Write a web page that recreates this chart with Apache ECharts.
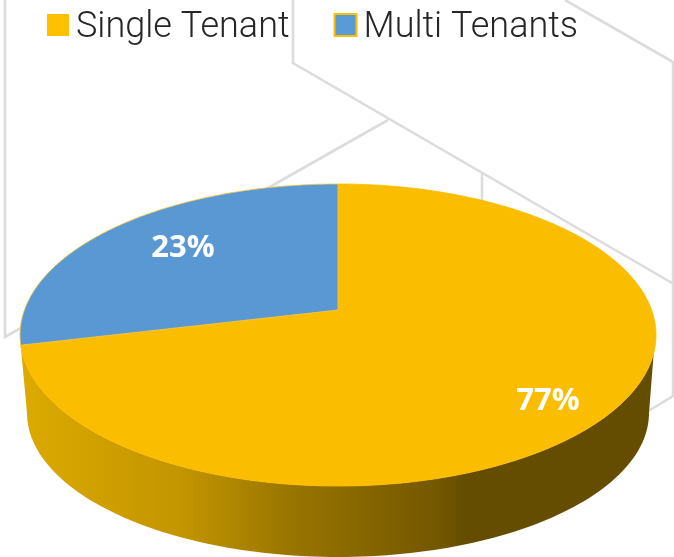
<!DOCTYPE html>
<html>
<head>
<meta charset="utf-8">
<style>
  html, body { margin: 0; padding: 0; background: #fff; }
  #chart { width: 674px; height: 557px; }
</style>
<script src="https://cdn.jsdelivr.net/npm/echarts@6/dist/echarts.min.js"></script>
</head>
<body>
<div id="chart"></div>
<script>
const categories = ['Single Tenant', 'Multi Tenants'];
// printed data labels
const percentLabels = [77, 23];
// sweep of each slice (it does not follow the printed labels)
const sliceShares = [71.3, 28.7];
const sliceColors = ['#fbbd00', '#5a98d4'];
const sliceStrokes = ['#fbbd00', '#f8c93c'];

// tilted disc: a circle seen in perspective
const hub = { x: 338, y: 310 };
const tiltA = 313.6, tiltB = 146.9, tiltP = 0.1656;
const rimTop = { x: 338, y: 335, rx: 318, ry: 151 };
const rimBottom = { x: 338, y: 413, rx: 311, ry: 144 };
const labelPos = [[548, 401], [183, 248]];

function discPoint(share) {
  const t = share / 100 * Math.PI * 2;
  const w = 1 + tiltP * Math.cos(t);
  return [hub.x + tiltA * Math.sin(t) / w, hub.y - tiltB * Math.cos(t) / w];
}

function slicePoints(from, to) {
  const pts = [[hub.x, hub.y]];
  const steps = 160;
  for (let i = 0; i <= steps; i++) {
    pts.push(discPoint(from + (to - from) * i / steps));
  }
  return pts;
}

function sidePoints() {
  const pts = [];
  // front of the top rim, left to right
  for (let i = 0; i <= 120; i++) {
    const a = Math.PI - 0.066 - (Math.PI - 0.066 - 0.12) * i / 120;
    pts.push([rimTop.x + rimTop.rx * Math.cos(a), rimTop.y + rimTop.ry * Math.sin(a)]);
  }
  // bottom rim, right to left
  for (let i = 0; i <= 120; i++) {
    const a = Math.PI * i / 120;
    pts.push([rimBottom.x + rimBottom.rx * Math.cos(a), rimBottom.y + rimBottom.ry * Math.sin(a)]);
  }
  return pts;
}

function makeSlice(index) {
  return function (params, api) {
    const from = sliceShares.slice(0, index).reduce((a, b) => a + b, 0);
    const to = from + api.value(0);
    const children = [];
    if (index === 0) {
      children.push({
        type: 'polygon',
        shape: { points: sidePoints() },
        style: {
          fill: new echarts.graphic.LinearGradient(21, 0, 656, 0, [
            { offset: 0, color: '#dcaa00' },
            { offset: 0.25, color: '#c39500' },
            { offset: 0.44, color: '#967300' },
            { offset: 0.66, color: '#735700' },
            { offset: 0.7, color: '#654d00' },
            { offset: 1, color: '#654d00' }
          ], true)
        }
      });
    }
    children.push({
      type: 'polygon',
      shape: { points: slicePoints(from, to) },
      style: { fill: sliceColors[index], stroke: sliceStrokes[index], lineWidth: 0.8 }
    });
    children.push({
      type: 'text',
      x: labelPos[index][0],
      y: labelPos[index][1],
      style: {
        text: percentLabels[index] + '%',
        fill: '#fff',
        font: 'bold 31px "Open Sans"',
        align: 'center',
        verticalAlign: 'middle'
      }
    });
    return { type: 'group', children: children };
  };
}

const chart = echarts.init(document.getElementById('chart'));

const wallLine = (pts) => ({
  type: 'polyline',
  silent: true,
  z: -1,
  shape: { points: pts },
  style: { stroke: '#dcdcdc', lineWidth: 2.6, fill: null }
});

chart.setOption({
  animation: false,
  backgroundColor: '#fff',
  legend: {
    left: 42,
    top: 5,
    itemWidth: 22,
    itemHeight: 22,
    itemGap: 44,
    icon: 'rect',
    formatter: '{t|{name}}',
    textStyle: {
      rich: {
        t: {
          fontFamily: 'Roboto',
          fontWeight: 300,
          fontSize: 36,
          color: '#262626',
          lineHeight: 42,
          verticalAlign: 'bottom',
          padding: [0, 0, 0, 2]
        }
      }
    },
    data: [
      { name: categories[0], itemStyle: { color: '#ffc000', borderWidth: 0 } },
      { name: categories[1], itemStyle: { color: '#5b9bd5', borderColor: '#ffc000', borderWidth: 2 } }
    ]
  },
  graphic: [
    wallLine([[5, 0], [5, 337], [388, 120]]),
    wallLine([[293, 0], [293, 63], [672, 283]]),
    wallLine([[482, 174], [482, 205]]),
    wallLine([[565, 0], [673, 62], [673, 396], [640, 416]])
  ],
  series: categories.map((name, i) => ({
    type: 'custom',
    name: name,
    coordinateSystem: 'none',
    renderItem: makeSlice(i),
    data: [[sliceShares[i]]],
    z: i === 0 ? 2 : 3,
    silent: true
  }))
});
</script>
</body>
</html>
